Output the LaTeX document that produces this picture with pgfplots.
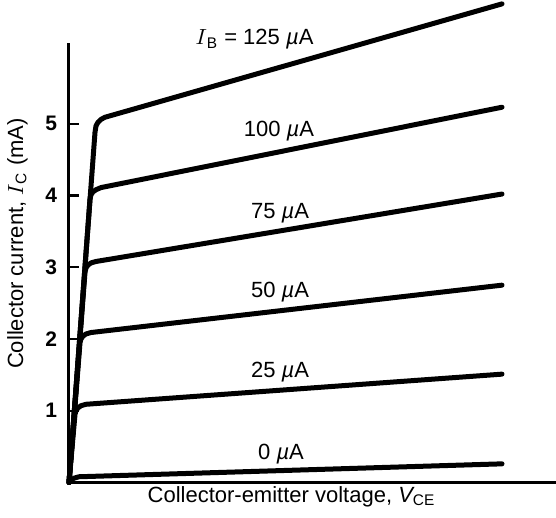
\documentclass[border=0pt]{standalone}
\usepackage{fontspec}
\setmainfont{Liberation Sans}
\usepackage{pgfplots}
\pgfplotsset{compat=1.18}

\begin{document}
\begin{tikzpicture}[every node/.style={font=\fontsize{11}{13}\selectfont}]
\begin{axis}[
  scale only axis, width=243.5pt, height=219.75pt,
  xmin=0, xmax=487, ymin=0, ymax=6.125,
  axis lines=left, axis line style={-, line width=1.5pt},
  xtick=\empty, ytick={1,2,3,4,5},
  tick align=inside, major tick length=5pt,
  tick style={line width=1.2pt, black},
  yticklabel style={font=\fontsize{10.5}{12}\selectfont\bfseries, xshift=-2.5pt},
  /pgf/number format/assume math mode=true,
  clip=false,
  cycle list={black,solid,mark=none\\},
  every axis plot/.append style={line width=2.5pt, line join=round, line cap=round},
]
% I_B = 125 uA
\addplot coordinates {(0,0) (26,4.88) (27,4.97) (29,5.02) (32,5.06) (36,5.09) (433,6.67)};
% 100 uA
\addplot coordinates {(0,0) (21,3.95) (22,4.01) (24,4.05) (27,4.08) (32,4.11) (433,5.23)};
% 75 uA
\addplot coordinates {(0,0) (16,2.93) (17,2.99) (19,3.03) (22,3.06) (27,3.08) (433,4.02)};
% 50 uA
\addplot coordinates {(0,0) (11,1.95) (12,2.00) (14,2.04) (17,2.07) (22,2.09) (433,2.75)};
% 25 uA
\addplot coordinates {(0,0) (6,0.95) (7,1.00) (9,1.04) (12,1.07) (17,1.09) (433,1.51)};
% 0 uA
\addplot coordinates {(0,0) (2,0.03) (5,0.06) (10,0.08) (433,0.26)};

\node[anchor=base] at (axis cs:185.5,6.098) {$I$\textsubscript{B} = 125 {\itshape µ}A};
\node[anchor=base] at (axis cs:210,4.815) {100 {\itshape µ}A};
\node[anchor=base] at (axis cs:211,3.686) {75 {\itshape µ}A};
\node[anchor=base] at (axis cs:211,2.585) {50 {\itshape µ}A};
\node[anchor=base] at (axis cs:211,1.470) {25 {\itshape µ}A};
\node[anchor=base] at (axis cs:212,0.314) {0 {\itshape µ}A};

\node[anchor=base] at (axis cs:222.5,-0.272) {Collector-emitter voltage, {\itshape V}\textsubscript{CE}};
\node[rotate=90] at (axis cs:-51.5,3.33) {Collector current, $I$\textsubscript{C} (mA)};
\end{axis}
\pgfresetboundingbox
\path[use as bounding box] (-34.5pt,-17.75pt) rectangle (243.5pt,241.25pt);
\end{tikzpicture}
\end{document}
